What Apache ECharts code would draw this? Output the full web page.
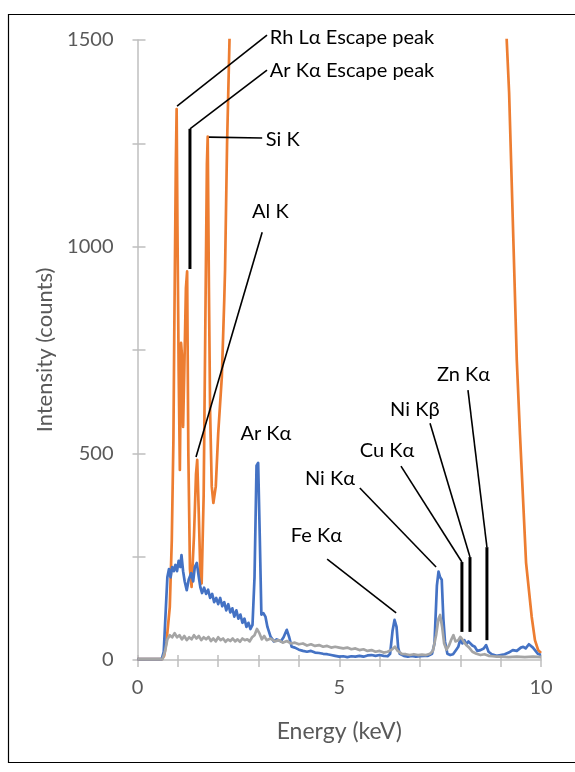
<!DOCTYPE html>
<html>
<head>
<meta charset="utf-8">
<script src="https://cdn.jsdelivr.net/npm/echarts@6/dist/echarts.min.js"></script>
<style>
  html, body { margin: 0; padding: 0; background: #fff; }
  #main { width: 575px; height: 772px; }
</style>
</head>
<body>
<div id="main"></div>
<script>
// tick labels shown on the axes
var xLabels = [0, 5, 10];
var yLabels = [0, 500, 1000, 1500];

// spectra as [energy keV, counts]
var orangeSpec = [
  [0, 2], [0.6, 2], [0.66, 10], [0.72, 45], [0.8, 128], [0.85, 290], [0.89, 532], [0.91, 774],
  [0.95, 1200], [0.97, 1333], [0.99, 1050], [1.02, 700], [1.05, 460], [1.08, 767], [1.1, 740],
  [1.13, 564], [1.16, 700], [1.2, 900], [1.23, 940], [1.26, 500], [1.3, 220], [1.34, 177],
  [1.4, 300], [1.45, 450], [1.48, 484], [1.52, 350], [1.56, 200], [1.59, 185], [1.64, 400],
  [1.68, 800], [1.72, 1200], [1.74, 1266], [1.77, 900], [1.8, 600], [1.84, 420], [1.88, 380],
  [1.94, 420], [2.0, 548], [2.09, 685], [2.15, 871], [2.17, 944], [2.22, 1250], [2.28, 1500],
  [2.32, 1700], [9.1, 1700], [9.15, 1500], [9.21, 1372], [9.32, 999], [9.4, 726], [9.48, 544],
  [9.63, 235], [9.77, 104], [9.85, 48], [9.93, 24], [10, 17]
];

var blueSpec = [
  [0, 2], [0.6, 2], [0.65, 20], [0.7, 120], [0.74, 200], [0.78, 220], [0.82, 200], [0.86, 225],
  [0.9, 215], [0.94, 230], [0.98, 215], [1.02, 240], [1.06, 225], [1.09, 254], [1.13, 215],
  [1.17, 190], [1.22, 169], [1.27, 195], [1.33, 210], [1.38, 190], [1.42, 225], [1.47, 235],
  [1.52, 200], [1.56, 175], [1.6, 162], [1.65, 175], [1.7, 160], [1.75, 170], [1.8, 150],
  [1.85, 160], [1.9, 140], [1.95, 150], [2.0, 135], [2.05, 150], [2.1, 130], [2.15, 140],
  [2.2, 120], [2.25, 135], [2.3, 115], [2.35, 125], [2.4, 105], [2.45, 120], [2.5, 100],
  [2.55, 110], [2.6, 90], [2.65, 100], [2.7, 80], [2.75, 90], [2.8, 75], [2.85, 85],
  [2.9, 200], [2.95, 470], [2.99, 477], [3.03, 300], [3.07, 110], [3.12, 113], [3.17, 105],
  [3.22, 80], [3.3, 56], [3.38, 45], [3.45, 50], [3.55, 45], [3.62, 55], [3.7, 73], [3.76, 55],
  [3.82, 32], [3.9, 30], [4.0, 25], [4.1, 22], [4.2, 20], [4.3, 22], [4.4, 18], [4.5, 17],
  [4.6, 15], [4.7, 14], [4.8, 12], [4.9, 10], [5.0, 8], [5.1, 9], [5.2, 7], [5.3, 9], [5.4, 8],
  [5.5, 10], [5.6, 8], [5.7, 11], [5.8, 12], [5.9, 10], [6.0, 12], [6.1, 10], [6.2, 9],
  [6.26, 15], [6.32, 70], [6.37, 97], [6.42, 80], [6.46, 30], [6.5, 15], [6.6, 10], [6.7, 8],
  [6.8, 10], [6.9, 8], [7.0, 9], [7.1, 10], [7.2, 10], [7.3, 15], [7.36, 40], [7.42, 180],
  [7.46, 214], [7.5, 200], [7.54, 194], [7.58, 100], [7.62, 45], [7.68, 15], [7.75, 12],
  [7.82, 14], [7.9, 25], [7.95, 32], [8.0, 50], [8.05, 40], [8.1, 48], [8.15, 38], [8.2, 45],
  [8.24, 48], [8.3, 35], [8.36, 32], [8.42, 22], [8.5, 24], [8.58, 28], [8.64, 36], [8.7, 20],
  [8.78, 14], [8.9, 10], [9.0, 12], [9.1, 14], [9.2, 18], [9.3, 24], [9.4, 22], [9.5, 30],
  [9.56, 32], [9.62, 28], [9.7, 38], [9.73, 40], [9.8, 30], [9.85, 24], [9.92, 15], [10, 12]
];

var graySpec = [
  [0, 2], [0.62, 2], [0.68, 20], [0.74, 50], [0.8, 60], [0.86, 55], [0.92, 65], [0.98, 55],
  [1.04, 60], [1.1, 50], [1.16, 58], [1.22, 48], [1.28, 55], [1.34, 50], [1.4, 60], [1.46, 52],
  [1.52, 58], [1.58, 48], [1.64, 55], [1.7, 50], [1.76, 56], [1.82, 46], [1.88, 52], [1.94, 45],
  [2.0, 55], [2.06, 48], [2.12, 52], [2.18, 44], [2.24, 50], [2.3, 46], [2.36, 52], [2.42, 45],
  [2.48, 50], [2.54, 44], [2.6, 52], [2.66, 48], [2.72, 50], [2.78, 45], [2.84, 55], [2.9, 60],
  [2.96, 75], [3.02, 65], [3.08, 50], [3.14, 58], [3.2, 48], [3.3, 52], [3.4, 45], [3.5, 48],
  [3.6, 42], [3.7, 46], [3.8, 40], [3.9, 42], [4.0, 38], [4.1, 40], [4.2, 35], [4.3, 38],
  [4.4, 34], [4.5, 36], [4.6, 32], [4.7, 34], [4.8, 30], [4.9, 32], [5.0, 30], [5.1, 28],
  [5.2, 30], [5.3, 26], [5.4, 28], [5.5, 24], [5.6, 26], [5.7, 22], [5.8, 24], [5.9, 20],
  [6.0, 22], [6.1, 18], [6.2, 20], [6.3, 25], [6.38, 32], [6.45, 22], [6.55, 15], [6.65, 14],
  [6.75, 12], [6.85, 14], [6.95, 12], [7.05, 13], [7.15, 12], [7.25, 15], [7.32, 22], [7.4, 60],
  [7.46, 100], [7.5, 109], [7.55, 80], [7.6, 40], [7.66, 25], [7.72, 35], [7.78, 50], [7.83, 60],
  [7.88, 45], [7.95, 48], [8.0, 56], [8.05, 50], [8.1, 42], [8.16, 35], [8.22, 30], [8.3, 20],
  [8.4, 15], [8.5, 12], [8.6, 14], [8.7, 10], [8.8, 9], [8.9, 8], [9.0, 8], [9.2, 7], [9.4, 8],
  [9.6, 7], [9.8, 8], [10, 7]
];

// peak labels: text anchor and leader line in data coordinates (keV, counts)
var peakNotes = [
  { text: 'Rh Lα Escape peak', at: [3.28, 1505], lead: [[0.98, 1340], [3.21, 1512]] },
  { text: 'Ar Kα Escape peak', at: [3.28, 1427], lead: [[3.21, 1427], [1.30, 1285]], stem: [[1.30, 1285], [1.30, 946]] },
  { text: 'Si K', at: [3.18, 1258], lead: [[1.77, 1265], [3.09, 1263]] },
  { text: 'Al K', at: [2.84, 1084], lead: [[3.09, 1035], [1.45, 491]] },
  { text: 'Ar Kα', at: [2.55, 549], lead: null },
  { text: 'Fe Kα', at: [3.80, 300], lead: [[4.70, 244], [6.41, 114]] },
  { text: 'Ni Kα', at: [4.15, 440], lead: [[5.51, 416], [7.40, 225]] },
  { text: 'Cu Kα', at: [5.51, 506], lead: [[6.53, 469], [8.04, 237]], stem: [[8.04, 237], [8.04, 68]] },
  { text: 'Ni Kβ', at: [6.26, 605], lead: [[7.25, 573], [8.24, 249]], stem: [[8.24, 249], [8.24, 68]] },
  { text: 'Zn Kα', at: [7.42, 690], lead: [[8.19, 653], [8.66, 273]], stem: [[8.66, 273], [8.66, 48]] }
];

var FONT = 'Lato, "Noto Sans", sans-serif';
var axisGray = '#bfbfbf';
var textGray = '#595959';

var myChart = echarts.init(document.getElementById('main'));

function spec(name, data, color) {
  return {
    name: name,
    type: 'line',
    data: data,
    showSymbol: false,
    clip: true,
    animation: false,
    lineStyle: { color: color, width: 2.7, join: 'round' }
  };
}

myChart.setOption({
  animation: false,
  backgroundColor: '#fff',
  grid: { left: 137.5, right: 34, top: 40, bottom: 112 },
  xAxis: [{
    type: 'value', min: 0, max: 10, interval: 1,
    name: 'Energy (keV)', nameLocation: 'middle', nameGap: 60,
    nameTextStyle: { color: textGray, fontSize: 23, fontFamily: FONT },
    axisLine: { lineStyle: { color: axisGray, width: 1.5 } },
    axisTick: { length: 7, lineStyle: { color: axisGray, width: 1.5 } },
    axisLabel: {
      color: textGray, fontSize: 20, fontFamily: FONT, margin: 18,
      formatter: function (v) { return xLabels.indexOf(v) >= 0 ? String(v) : ''; }
    },
    splitLine: { show: false }
  }, {
    // inner half of the crossing ticks
    type: 'value', min: 0, max: 10, interval: 1, position: 'bottom',
    axisLine: { show: false },
    axisTick: { inside: true, length: 5, lineStyle: { color: axisGray, width: 1.5 } },
    axisLabel: { show: false }, splitLine: { show: false }
  }],
  yAxis: [{
    type: 'value', min: 0, max: 1500, interval: 250,
    name: 'Intensity (counts)', nameLocation: 'middle', nameGap: 72,
    nameTextStyle: { color: textGray, fontSize: 22, fontFamily: FONT },
    axisLine: { show: true, lineStyle: { color: axisGray, width: 1.5 } },
    axisTick: { show: true, length: 5, lineStyle: { color: axisGray, width: 1.5 } },
    axisLabel: {
      color: textGray, fontSize: 20, fontFamily: FONT, margin: 24,
      formatter: function (v) { return yLabels.indexOf(v) >= 0 ? String(v) : ''; }
    },
    splitLine: { show: false }
  }, {
    type: 'value', min: 0, max: 1500, interval: 250, position: 'left',
    axisLine: { show: false },
    axisTick: { show: true, inside: true, length: 8, lineStyle: { color: axisGray, width: 1.5 } },
    axisLabel: { show: false }, splitLine: { show: false }
  }],
  series: [
    spec('Orange', orangeSpec, '#ed7d31'),
    spec('Blue', blueSpec, '#4472c4'),
    spec('Gray', graySpec, '#a5a5a5')
  ]
});

// leader lines and labels, placed through the axes
function px(p) { return myChart.convertToPixel({ xAxisIndex: 0, yAxisIndex: 0 }, p); }

var gfx = [{
  type: 'rect', silent: true, z: 100,
  shape: { x: 8.5, y: 14.5, width: 600, height: 748 },
  style: { fill: null, stroke: '#000', lineWidth: 1.2 }
}];
peakNotes.forEach(function (n) {
  if (n.lead) {
    gfx.push({ type: 'polyline', silent: true, z: 90,
      shape: { points: n.lead.map(px) },
      style: { stroke: '#000', lineWidth: 1.6, fill: null } });
  }
  if (n.stem) {
    gfx.push({ type: 'polyline', silent: true, z: 90,
      shape: { points: n.stem.map(px) },
      style: { stroke: '#000', lineWidth: 3, fill: null } });
  }
  var a = px(n.at);
  gfx.push({ type: 'text', silent: true, z: 95, x: a[0], y: a[1],
    style: { text: n.text, fill: '#000', font: '20px ' + FONT, textAlign: 'left', textVerticalAlign: 'middle' } });
});
myChart.setOption({ graphic: gfx });
</script>
</body>
</html>
